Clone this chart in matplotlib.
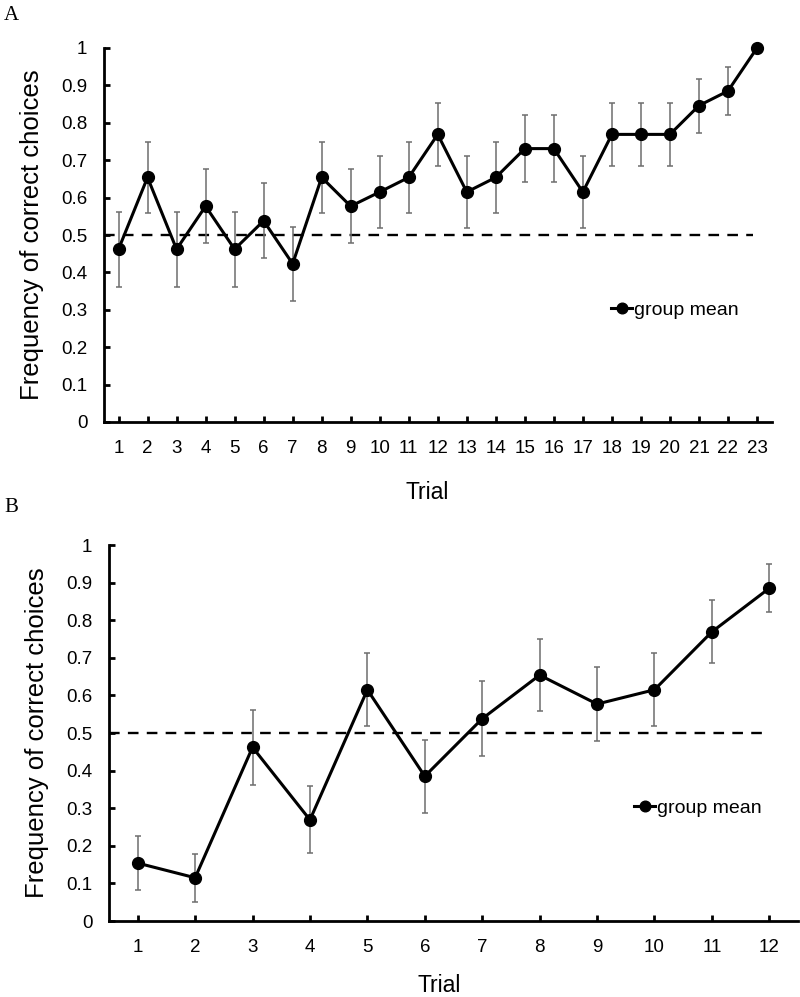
import matplotlib
matplotlib.use("Agg")
import matplotlib.pyplot as plt

plt.rcParams['font.family'] = ['Liberation Sans', 'DejaVu Sans']

# Panel A: 23 trials
trials_a = list(range(1, 24))
mean_a = [0.462, 0.654, 0.462, 0.577, 0.462, 0.538, 0.423, 0.654, 0.577, 0.615, 0.654, 0.769,
          0.615, 0.654, 0.731, 0.731, 0.615, 0.769, 0.769, 0.769, 0.846, 0.885, 1.0]
err_a = [0.100, 0.095, 0.100, 0.099, 0.100, 0.100, 0.099, 0.095, 0.099, 0.097, 0.095, 0.084,
         0.097, 0.095, 0.089, 0.089, 0.097, 0.084, 0.084, 0.084, 0.072, 0.064, 0.0]

# Panel B: 12 trials
trials_b = list(range(1, 13))
mean_b = [0.154, 0.115, 0.462, 0.269, 0.615, 0.385, 0.538, 0.654, 0.577, 0.615, 0.769, 0.885]
err_b = [0.072, 0.064, 0.100, 0.089, 0.097, 0.097, 0.100, 0.095, 0.099, 0.097, 0.084, 0.064]

chance = 0.5
yticks = [0, 0.1, 0.2, 0.3, 0.4, 0.5, 0.6, 0.7, 0.8, 0.9, 1]
yticklabels = ['0', '0.1', '0.2', '0.3', '0.4', '0.5', '0.6', '0.7', '0.8', '0.9', '1']

fig = plt.figure(figsize=(8, 9.97), dpi=100)
W, H = 800, 997


def panel(rect, x, y, e, dash_end, leg_x, xlab_x, xlab_pad):
    l, t, r, b = rect
    ax = fig.add_axes([l / W, 1 - b / H, (r - l) / W, (b - t) / H])
    ax.errorbar(x, y, yerr=e, fmt='none', ecolor='#6e6e6e', elinewidth=1.1,
                capsize=2.5, capthick=1.1, zorder=2)
    ax.plot(x, y, '-o', color='black', lw=2.2, ms=8.5, label='group mean',
            clip_on=False, zorder=3)
    ax.axhline(chance, xmin=0, xmax=dash_end, color='black', lw=1.7,
               dashes=(4.5, 3.5), zorder=1)
    ax.set_xlim(0.5, len(x) + 0.5)
    ax.set_ylim(0, 1)
    ax.set_xticks(x)
    ax.set_xticklabels([str(v) for v in x])
    ax.set_yticks(yticks)
    ax.set_yticklabels(yticklabels)
    for s in ['top', 'right']:
        ax.spines[s].set_visible(False)
    for s in ['left', 'bottom']:
        ax.spines[s].set_linewidth(2.0)
    ax.tick_params(axis='both', direction='in', length=4, width=2.0,
                   labelsize=13.5)
    ax.tick_params(axis='y', pad=12)
    ax.tick_params(axis='x', pad=13)
    ax.set_xlabel('Trial', fontsize=16.5, labelpad=xlab_pad)
    ax.xaxis.get_label().set_x(xlab_x)
    ax.set_ylabel('Frequency of correct choices', fontsize=18.5, labelpad=12)
    ax.legend(loc='center left', bbox_to_anchor=(leg_x, 0.3), frameon=False,
              fontsize=14, handlelength=1.1, handletextpad=0.1,
              borderpad=0, borderaxespad=0, markerscale=0.9)
    return ax


ax_a = panel((104, 48, 771.5, 422), trials_a, mean_a, err_a, 0.973,
             (611 - 104) / 667.5, (427 - 104) / 667.5, 17)
ax_b = panel((109, 545, 798, 921), trials_b, mean_b, err_b, 0.959,
             (634 - 109) / 689, (439 - 109) / 689, 13)

fig.text(4 / W, 1 - 15 / H, 'A', fontsize=15, family=['Liberation Serif', 'DejaVu Serif'],
         va='center', ha='left')
fig.text(4 / W, 1 - 507 / H, 'B', fontsize=15, family=['Liberation Serif', 'DejaVu Serif'],
         va='center', ha='left')

fig.savefig('out.png', dpi=100)
